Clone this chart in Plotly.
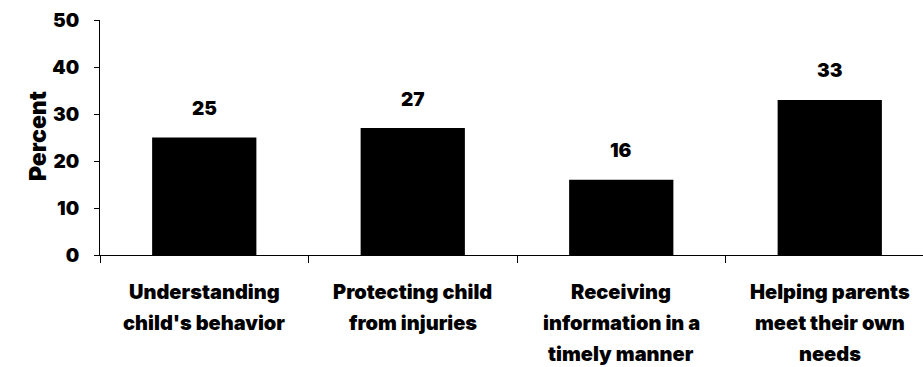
import plotly.graph_objects as go

categories = ["Understanding child's behavior", "Protecting child from injuries",
              "Receiving information in a timely manner", "Helping parents meet their own needs"]
label_lines = [["Understanding", "child's behavior"],
               ["Protecting child", "from injuries"],
               ["Receiving", "information in a", "timely manner"],
               ["Helping parents", "meet their own", "needs"]]
values = [25, 27, 16, 33]
y_ticks = [0, 10, 20, 30, 40, 50]

FONT = "Inter, DejaVu Sans"
WT = 900
W, H = 923, 367
ML, MR, MT, MB = 100, 0, 20, 112

fig = go.Figure()
fig.add_trace(go.Bar(x=categories, y=values, marker=dict(color="black", line=dict(width=0)),
                     hoverinfo="skip"))

ann = []
for c, v in zip(categories, values):
    ann.append(dict(x=c, y=v, xref="x", yref="y", text=str(v), showarrow=False,
                    yanchor="middle", yshift=29,
                    font=dict(family=FONT, size=19, color="black", weight=WT)))
for c, lines in zip(categories, label_lines):
    for i, ln in enumerate(lines):
        ann.append(dict(x=c, y=0, xref="x", yref="y", text=ln, showarrow=False,
                        yanchor="middle", yshift=-(37 + 31 * i), borderpad=0,
                        font=dict(family=FONT, size=20, color="black", weight=WT)))
ann.append(dict(x=(22 - ML) / (W - ML - MR), y=(H - MB - 136) / (H - MB - MT), xref="paper", yref="paper",
                text="Percent", textangle=-90, showarrow=False,
                font=dict(family=FONT, size=23, color="black", weight=WT)))

span = (W - ML - MR) / 208.5
fig.update_layout(
    width=W, height=H, margin=dict(l=ML, r=MR, t=MT, b=MB, pad=0),
    paper_bgcolor="white", plot_bgcolor="white", showlegend=False, bargap=0.5,
    annotations=ann,
    xaxis=dict(range=[-0.5, -0.5 + span], showticklabels=False, ticks="outside", ticklen=7,
               tickcolor="black", tickson="boundaries", showline=True, linecolor="black",
               linewidth=1, showgrid=False, zeroline=False, fixedrange=True),
    yaxis=dict(range=[0, 50], tickvals=y_ticks,
               ticks="outside", ticklen=5, tickcolor="black", showline=True, linecolor="black",
               linewidth=1, showgrid=False, zeroline=False, ticklabelstandoff=11,
               tickfont=dict(family=FONT, size=19, color="black", weight=WT), fixedrange=True),
)
fig.write_html("out.html", config={"displayModeBar": False},
               post_script="document.body.style.margin='0';document.body.style.overflow='hidden';")
